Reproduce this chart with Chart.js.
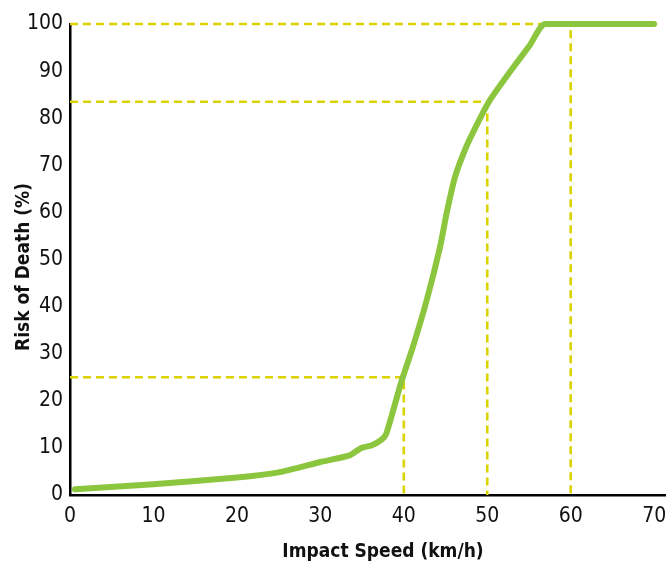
<!DOCTYPE html>
<html>
<head>
<meta charset="utf-8">
<script src="https://cdn.jsdelivr.net/npm/chart.js@4"></script>
<style>
  html, body { margin: 0; padding: 0; background: #fff; }
  #wrap { width: 667px; height: 566px; }
</style>
</head>
<body>
<div id="wrap"><canvas id="chart" width="667" height="566"></canvas></div>
<script>
// Velocidade de impacto (km/h) e risco de morte (%)
const speeds = [0.6, 10, 20, 25, 30, 33.5, 34.9, 36.1, 37.3, 37.9, 39.7, 41.1, 42.75, 44.35, 45.15, 46.15, 47.5, 49, 50.3, 52.7, 55.1, 56.9, 70];
const risks  = [1.2, 2.3, 3.7, 4.8, 7.0, 8.4, 10.0, 10.5, 11.7, 13.0, 24.0, 31.5, 41.4, 52.7, 60.0, 67.6, 74.0, 79.5, 83.8, 89.8, 95.5, 100, 100];

// Linhas de referência tracejadas (velocidade -> risco)
const guideSpeeds = [40, 50, 60];
const guideRisks = [25, 83.5, 100];

const xTicks = [0, 10, 20, 30, 40, 50, 60, 70];
const yTicks = [0, 10, 20, 30, 40, 50, 60, 70, 80, 90, 100];

const xTitle = 'Impact Speed (km/h)';
const yTitle = 'Risk of Death (%)';

const FONT = "'Liberation Sans Narrow', 'DejaVu Sans Condensed', 'Liberation Sans', sans-serif";
const GREEN = '#8cc63f';
const YELLOW = '#dad300';

// Monta os datasets das linhas tracejadas
const guideSets = guideSpeeds.map((s, i) => ({
  data: [{ x: 0, y: guideRisks[i] }, { x: s, y: guideRisks[i] }, { x: s, y: 0 }],
  borderColor: YELLOW,
  borderWidth: 2.6,
  borderDash: [8, 5],
  pointRadius: 0,
  tension: 0,
  fill: false,
  clip: false,
  order: 2
}));

// Desenha os títulos dos eixos nas posições do original
const axisTitles = {
  id: 'axisTitles',
  afterDraw(chart) {
    const c = chart.ctx;
    c.save();
    c.fillStyle = '#111';
    c.font = "bold 19px " + FONT;
    c.textAlign = 'center';
    c.textBaseline = 'middle';
    c.fillText(xTitle, 383, 552);
    c.translate(24, 267);
    c.rotate(-Math.PI / 2);
    c.fillText(yTitle, 0, 0);
    c.restore();
  }
};

const ctx = document.getElementById('chart').getContext('2d');
new Chart(ctx, {
  type: 'line',
  data: {
    datasets: [{
      data: speeds.map((s, i) => ({ x: s, y: risks[i] })),
      borderColor: GREEN,
      borderWidth: 6,
      borderCapStyle: 'round',
      borderJoinStyle: 'round',
      pointRadius: 0,
      tension: 0.2,
      fill: false,
      clip: false,
      order: 1
    }, ...guideSets]
  },
  options: {
    responsive: false,
    animation: false,
    layout: { padding: { top: 24, right: 2, bottom: 0, left: 0 } },
    plugins: { legend: { display: false }, tooltip: { enabled: false } },
    scales: {
      x: {
        type: 'linear',
        min: 0,
        max: 71.3,
        afterBuildTicks: axis => { axis.ticks = xTicks.map(v => ({ value: v })); },
        afterFit: axis => { axis.height = 71; axis.paddingLeft = 0; axis.paddingRight = 0; },
        grid: { display: false, drawTicks: false },
        border: { display: true, color: '#000', width: 2.5 },
        ticks: { color: '#111', font: { family: FONT, size: 21 }, padding: 9, maxRotation: 0 }
      },
      y: {
        min: 0,
        max: 100,
        afterBuildTicks: axis => { axis.ticks = yTicks.map(v => ({ value: v })); },
        afterFit: axis => { axis.width = 70; axis.paddingTop = 0; axis.paddingBottom = 0; },
        grid: { display: false, drawTicks: false },
        border: { display: true, color: '#000', width: 2.5 },
        ticks: { color: '#111', font: { family: FONT, size: 21 }, padding: 7 }
      }
    }
  },
  plugins: [axisTitles]
});
</script>
</body>
</html>
